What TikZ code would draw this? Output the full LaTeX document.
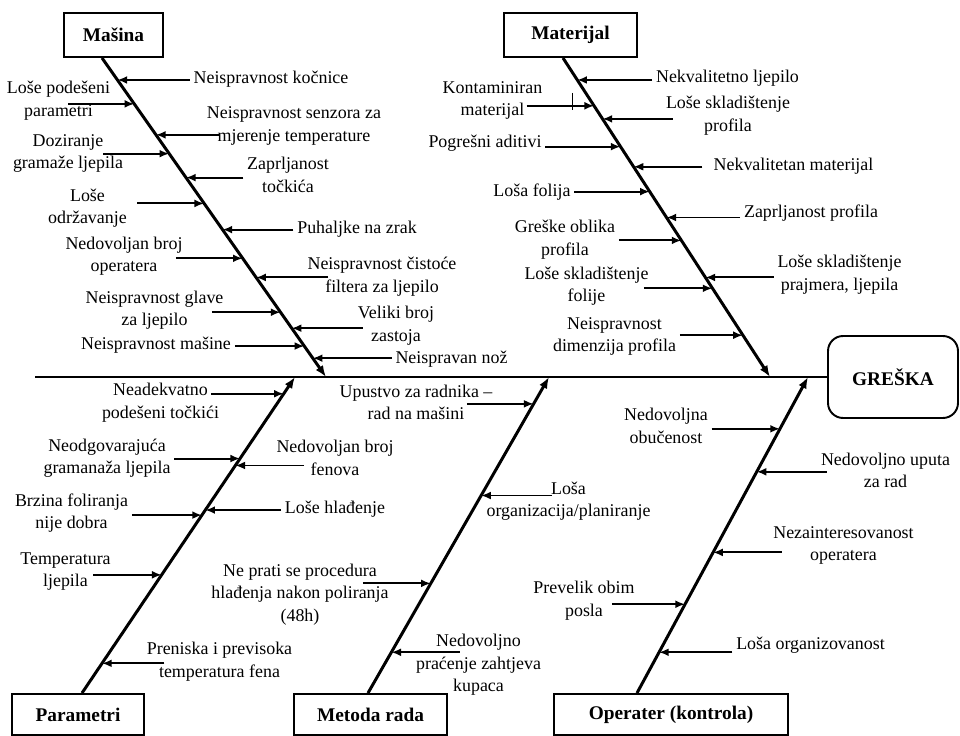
\documentclass[tikz,border=0pt]{standalone}
\usepackage{fontspec}
\setmainfont{Liberation Serif}
\usepackage{tikz}
\usetikzlibrary{arrows.meta,calc}
\tikzset{
  katbox/.style={
    draw, line width=1.1pt, inner sep=2pt,
    font=\fontsize{11}{13}\selectfont\bfseries,
  },
  cause/.style={
    font=\fontsize{10.2}{12.75}\selectfont, align=center, inner sep=2pt,
  },
  arrow/.style={-{Latex[length=5.5pt,width=4.5pt]}, line width=1.1pt},
  bone/.style={-{Latex[length=6.5pt,width=5pt]}, line width=1.7pt},
  spine/.style={line width=1.1pt},
}
\begin{document}
\begin{tikzpicture}[x=0.02cm, y=-0.02cm]
  \useasboundingbox (0,0) rectangle (960,736);

  % glava i kosti
  \node[katbox, rounded corners=0.3cm, minimum width=2.6cm, minimum height=1.64cm] (greska) at (893,377) {GREŠKA};
  \node[katbox, minimum width=1.98cm, minimum height=0.88cm] (masina) at (113.5,35) {Mašina};
  \node[katbox, minimum width=2.66cm, minimum height=0.88cm] (materijal) at (570.5,35) {Materijal};
  \node[katbox, minimum width=2.64cm, minimum height=0.82cm] (parametri) at (78,714.5) {Parametri};
  \node[katbox, minimum width=3.06cm, minimum height=0.82cm] (metoda) at (370.5,714.5) {Metoda rada};
  \node[katbox, minimum width=4.68cm, minimum height=0.82cm] (operater) at (671,714.5) {Operater (kontrola)};

  \coordinate (spinestart) at (35,377);
  \coordinate (matip) at (326,377);
  \coordinate (mttip) at (770,377);
  \coordinate (patip) at (295,377);
  \coordinate (metip) at (549,377);
  \coordinate (optip) at (808,377);
  \coordinate (mastart) at ($(masina.south)+(-11.5,0)$);
  \coordinate (mtstart) at ($(materijal.south)+(-7.5,0)$);
  \coordinate (pastart) at ($(parametri.north)+(4,0)$);
  \coordinate (mestart) at ($(metoda.north)+(-2.5,0)$);
  \coordinate (opstart) at ($(operater.north)+(-34,0)$);

  \draw[spine] (spinestart) -- (greska.west);
  \draw[bone] (mastart) -- (matip);
  \draw[bone] (mtstart) -- (mttip);
  \draw[bone] (pastart) -- (patip);
  \draw[bone] (mestart) -- (metip);
  \draw[bone] (opstart) -- (optip);

  \path (mastart) -- (matip)
    coordinate[pos=.069] (ma1x) coordinate[pos=.241] (ma2x) coordinate[pos=.375] (ma3x)
    coordinate[pos=.538] (ma4x) coordinate[pos=.688] (ma5x) coordinate[pos=.847] (ma6x)
    coordinate[pos=.941] (ma7x) coordinate[pos=.144] (ma8x) coordinate[pos=.300] (ma9x)
    coordinate[pos=.456] (ma10x) coordinate[pos=.628] (ma11x) coordinate[pos=.797] (ma12x)
    coordinate[pos=.903] (ma13x);
  \path (mtstart) -- (mttip)
    coordinate[pos=.069] (mt1x) coordinate[pos=.191] (mt2x) coordinate[pos=.341] (mt3x)
    coordinate[pos=.500] (mt4x) coordinate[pos=.688] (mt5x) coordinate[pos=.150] (mt6x)
    coordinate[pos=.278] (mt7x) coordinate[pos=.419] (mt8x) coordinate[pos=.572] (mt9x)
    coordinate[pos=.722] (mt10x) coordinate[pos=.869] (mt11x);
  \path (pastart) -- (patip)
    coordinate[pos=.947] (pa1x) coordinate[pos=.742] (pa2x) coordinate[pos=.563] (pa3x)
    coordinate[pos=.374] (pa4x) coordinate[pos=.720] (pa5x) coordinate[pos=.579] (pa6x)
    coordinate[pos=.094] (pa7x);
  \path (mestart) -- (metip)
    coordinate[pos=.915] (me1x) coordinate[pos=.347] (me2x) coordinate[pos=.625] (me3x)
    coordinate[pos=.129] (me4x);
  \path (opstart) -- (optip)
    coordinate[pos=.836] (op1x) coordinate[pos=.281] (op2x) coordinate[pos=.700] (op3x)
    coordinate[pos=.445] (op4x) coordinate[pos=.129] (op5x);

  % Mašina
  \node[cause] (ma1) at (271,79) {Neispravnost kočnice};
  \node[cause] (ma2) at (294,126) {Neispravnost senzora za\\mjerenje temperature};
  \node[cause] (ma3) at (288,175) {Zaprljanost\\točkića};
  \node[cause] (ma4) at (357,229) {Puhaljke na zrak};
  \node[cause] (ma5) at (382,276.5) {Neispravnost čistoće\\filtera za ljepilo};
  \node[cause] (ma6) at (396,325.5) {Veliki broj\\zastoja};
  \node[cause] (ma7) at (451.5,359) {Neispravan nož};
  \node[cause] (ma8) at (58.5,100.5) {Loše podešeni\\parametri};
  \node[cause] (ma9) at (68,153.5) {Doziranje\\gramaže ljepila};
  \node[cause] (ma10) at (87.5,208) {Loše\\održavanje};
  \node[cause] (ma11) at (124,256) {Nedovoljan broj\\operatera};
  \node[cause] (ma12) at (154.5,310) {Neispravnost glave\\za ljepilo};
  \node[cause] (ma13) at (156,345) {Neispravnost mašine};

  \draw[arrow] (ma1.west |- ma1x) -- (ma1x);
  \draw[arrow] ($(ma2.west |- ma2x)+(16.5,0)$) -- (ma2x);
  \draw[arrow] (ma3.west |- ma3x) -- (ma3x);
  \draw[arrow] (ma4.west |- ma4x) -- (ma4x);
  \draw[arrow] ($(ma5.west |- ma5x)+(24.5,0)$) -- (ma5x);
  \draw[arrow] ($(ma6.west |- ma6x)+(8.5,0)$) -- (ma6x);
  \draw[arrow] (ma7.west |- ma7x) -- (ma7x);
  \draw[arrow] ($(ma8.east |- ma8x)+(-45.5,0)$) -- (ma8x);
  \draw[arrow] ($(ma9.east |- ma9x)+(-23.5,0)$) -- (ma9x);
  \draw[arrow] ($(ma10.east |- ma10x)+(6.5,0)$) -- (ma10x);
  \draw[arrow] ($(ma11.east |- ma11x)+(-10.5,0)$) -- (ma11x);
  \draw[arrow] ($(ma12.east |- ma12x)+(-15.5,0)$) -- (ma12x);
  \draw[arrow] (ma13.east |- ma13x) -- (ma13x);

  % Materijal
  \node[cause] (mt1) at (727.5,78) {Nekvalitetno ljepilo};
  \node[cause] (mt2) at (728,115.5) {Loše skladištenje\\profila};
  \node[cause] (mt3) at (793.5,166) {Nekvalitetan materijal};
  \node[cause] (mt4) at (811,213) {Zaprljanost profila};
  \node[cause] (mt5) at (839.5,274.5) {Loše skladištenje\\prajmera, ljepila};
  \node[cause] (mt6) at (492.5,100.5) {Kontaminiran\\materijal};
  \node[cause] (mt7) at (485,143) {Pogrešni aditivi};
  \node[cause] (mt8) at (532,192) {Loša folija};
  \node[cause] (mt9) at (565,239.5) {Greške oblika\\profila};
  \node[cause] (mt10) at (586.5,286) {Loše skladištenje\\folije};
  \node[cause] (mt11) at (614.5,336.5) {Neispravnost\\dimenzija profila};

  \draw[arrow] (mt1.west |- mt1x) -- (mt1x);
  \draw[arrow] ($(mt2.west |- mt2x)+(10.5,0)$) -- (mt2x);
  \draw[arrow] ($(mt3.west |- mt3x)+(-7.5,0)$) -- (mt3x);
  \draw[arrow] (mt4.west |- mt4x) -- (mt4x);
  \draw[arrow] (mt5.west |- mt5x) -- (mt5x);
  \draw[arrow] ($(mt6.east |- mt6x)+(-19.5,0)$) -- (mt6x);
  \draw[arrow] (mt7.east |- mt7x) -- (mt7x);
  \draw[arrow] (mt8.east |- mt8x) -- (mt8x);
  \draw[arrow] (mt9.east |- mt9x) -- (mt9x);
  \draw[arrow] ($(mt10.east |- mt10x)+(-8.5,0)$) -- (mt10x);
  \draw[arrow] (mt11.east |- mt11x) -- (mt11x);
  \draw[line width=0.4pt] (572,93) -- (572,110);

  % Parametri
  \node[cause] (pa1) at (160.5,402.5) {Neadekvatno\\podešeni točkići};
  \node[cause] (pa2) at (107,458) {Neodgovarajuća\\gramanaža ljepila};
  \node[cause] (pa3) at (71.5,513) {Brzina foliranja\\nije dobra};
  \node[cause] (pa4) at (65.5,571.5) {Temperatura\\ljepila};
  \node[cause] (pa5) at (335,458) {Nedovoljan broj\\fenova};
  \node[cause] (pa6) at (335,509) {Loše hlađenje};
  \node[cause] (pa7) at (219.5,661.5) {Preniska i previsoka\\temperatura fena};

  \draw[arrow] ($(pa1.east |- pa1x)+(-11.5,0)$) -- (pa1x);
  \draw[arrow] (pa2.east |- pa2x) -- (pa2x);
  \draw[arrow] (pa3.east |- pa3x) -- (pa3x);
  \draw[arrow] ($(pa4.east |- pa4x)+(-21.5,0)$) -- (pa4x);
  \draw[arrow] ($(pa5.west |- pa5x)+(31.5,0)$) -- (pa5x);
  \draw[arrow] (pa6.west |- pa6x) -- (pa6x);
  \draw[arrow] ($(pa7.west |- pa7x)+(21.5,0)$) -- (pa7x);

  % Metoda rada
  \node[cause] (me1) at (416,402.5) {Upustvo za radnika –\\rad na mašini};
  \node[cause] (me2) at (300,594.5) {Ne prati se procedura\\hlađenja nakon poliranja\\(48h)};
  \node[cause] (me3) at (568.5,501) {Loša\\organizacija/planiranje};
  \node[cause] (me4) at (478.5,665) {Nedovoljno\\praćenje zahtjeva\\kupaca};

  \draw[arrow] ($(me1.east |- me1x)+(-29.5,0)$) -- (me1x);
  \draw[arrow] ($(me2.east |- me2x)+(-29.5,0)$) -- (me2x);
  \draw[arrow] ($(me3.west |- me3x)+(69.5,0)$) -- (me3x);
  \draw[arrow] ($(me4.west |- me4x)+(47.5,0)$) -- (me4x);

  % Operater
  \node[cause] (op1) at (666,426) {Nedovoljna\\obučenost};
  \node[cause] (op2) at (584,600.5) {Prevelik obim\\posla};
  \node[cause] (op3) at (885.5,470.5) {Nedovoljno uputa\\za rad};
  \node[cause] (op4) at (843.5,545.5) {Nezainteresovanost\\operatera};
  \node[cause] (op5) at (810.5,645) {Loša organizovanost};

  \draw[arrow] (op1.east |- op1x) -- (op1x);
  \draw[arrow] ($(op2.east |- op2x)+(-26.5,0)$) -- (op2x);
  \draw[arrow] ($(op3.west |- op3x)+(9.5,0)$) -- (op3x);
  \draw[arrow] ($(op4.west |- op4x)+(12.5,0)$) -- (op4x);
  \draw[arrow] (op5.west |- op5x) -- (op5x);

\end{tikzpicture}
\end{document}
